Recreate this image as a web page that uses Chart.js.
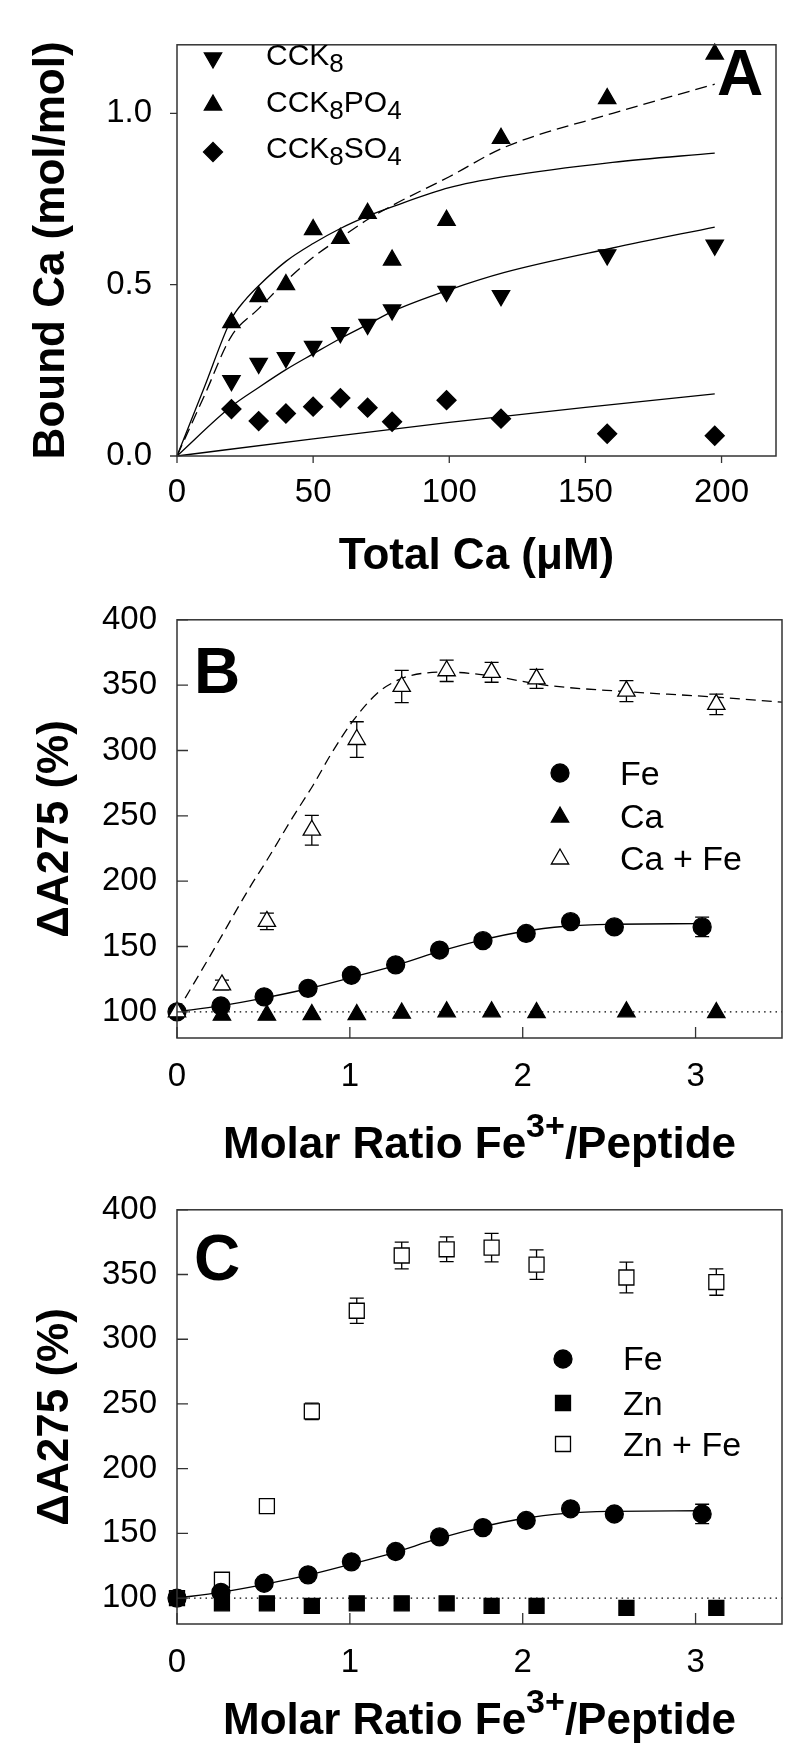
<!DOCTYPE html>
<html>
<head>
<meta charset="utf-8">
<script src="https://cdn.jsdelivr.net/npm/chart.js@4.4.0/dist/chart.umd.min.js"></script>
<style>
    body { margin: 0; background: #fff; }
    .panel { position: absolute; left: 0; }
    .panel canvas { display: block; }
</style>
</head>
<body>
<div class="panel" style="top:0"><canvas id="chartA" width="800" height="580"></canvas></div>
<div class="panel" style="top:580px"><canvas id="chartB" width="800" height="590"></canvas></div>
<div class="panel" style="top:1170px"><canvas id="chartC" width="800" height="590"></canvas></div>
<script>
/**
 * 数据
 */
//图A: Bound Ca vs Total Ca
var caTotal = [20, 30, 40, 50, 60, 70, 79, 99, 119, 158, 197.5];
var boundCck8 = [0.22, 0.27, 0.287, 0.32, 0.36, 0.384, 0.426, 0.48, 0.468, 0.587, 0.615];
var boundPO4 = [0.389, 0.465, 0.5, 0.661, 0.635, 0.708, 0.572, 0.688, 0.927, 1.043, 1.173];
var boundSO4 = [0.137, 0.102, 0.124, 0.144, 0.169, 0.141, 0.1, 0.163, 0.109, 0.065, 0.059];

//图A拟合曲线
var fitPO4X = [0, 10, 20, 25, 30, 40, 50, 60, 70, 80, 100, 120, 160, 197.5];
var fitPO4Y = [0, 0.2, 0.4, 0.455, 0.497, 0.568, 0.62, 0.664, 0.7, 0.73, 0.783, 0.815, 0.857, 0.884];
var fitPO4DashX = [0, 10, 20, 30, 40, 50, 60, 70, 80, 100, 120, 160, 197.5];
var fitPO4DashY = [0, 0.175, 0.35, 0.43, 0.51, 0.58, 0.636, 0.69, 0.735, 0.815, 0.9, 1.0, 1.085];
var fitCck8X = [0, 20, 30, 40, 50, 60, 70, 80, 100, 120, 160, 197.5];
var fitCck8Y = [0, 0.145, 0.2, 0.252, 0.298, 0.343, 0.384, 0.425, 0.485, 0.535, 0.607, 0.668];
var fitSO4X = [0, 50, 100, 150, 197.5];
var fitSO4Y = [0, 0.05, 0.098, 0.142, 0.181];

var ticksAx = [0, 50, 100, 150, 200];
var ticksAy = [0, 0.5, 1.0];

//图B、图C: ΔA275 vs Fe3+/Peptide
var ratioFe = [0, 0.254, 0.504, 0.758, 1.009, 1.265, 1.519, 1.77, 2.02, 2.277, 2.53, 3.038];
var absFe = [100, 104.5, 111.5, 118, 128, 136, 147.3, 154.5, 160, 169, 165, 165];
var errFe = [0, 0, 0, 0, 0, 0, 0, 0, 0, 0, 0, 7.5];
var fitFeX = [0, 0.25, 0.5, 0.75, 1.0, 1.25, 1.5, 1.75, 2.0, 2.25, 2.5, 3.03];
var fitFeY = [100, 104.5, 110.5, 117.5, 126, 135, 145.5, 154.5, 161.5, 165.5, 167, 167.5];

var ratioMix = [0, 0.26, 0.52, 0.78, 1.04, 1.30, 1.56, 1.82, 2.08, 2.60, 3.12];
var ratioMetal = [0.26, 0.52, 0.78, 1.04, 1.30, 1.56, 1.82, 2.08, 2.60, 3.12];

//图B
var absCa = [97.5, 97.5, 98, 98, 99, 100, 100, 99.5, 100, 99.5];
var absCaFe = [100, 120.6, 169.2, 239, 308.4, 349, 361, 359.8, 354.8, 345.4, 335.3];
var errCaFe = [0, 3.7, 6.3, 11.4, 13.6, 12.3, 8.2, 7.6, 7.3, 8, 7.9];
var fitCaFeX = [0, 0.21, 0.42, 0.52, 0.67, 0.79, 0.89, 1.02, 1.16, 1.25, 1.34, 1.56, 1.82, 2.13, 2.6, 3.1, 3.5];
var fitCaFeY = [100, 147, 195, 216, 249, 274, 297, 323, 344, 352, 357, 360, 357, 350, 345, 341, 337];

//图C
var absZn = [96, 96, 94, 96, 96, 96, 94, 94, 92.5, 92.5];
var absZnFe = [100, 114.2, 171.1, 244.3, 322, 364.7, 369.5, 370.8, 357.6, 347.7, 344.2];
var errZnFe = [0, 0, 0, 6.3, 9.7, 10.3, 9.6, 11, 11.4, 11.9, 10.2];

//100%基线
var baseX = [0, 3.5];
var baseY = [100, 100];

var ticksBx = [0, 1, 2, 3];
var ticksBy = [100, 150, 200, 250, 300, 350, 400];

var FONT = '"Liberation Sans", Arial, Helvetica, sans-serif';
Chart.defaults.font.family = FONT;
Chart.defaults.color = '#000';

function pts(xs, ys) {
    return xs.map(function (x, i) { return {x: x, y: ys[i]}; });
}

/**
 * 标记 (与Chart.js的pointStyle几何一致)
 */
function drawMarker(ctx, style, x, y, r, fill) {
    ctx.save();
    ctx.beginPath();
    if (style === 'circle') {
        ctx.arc(x, y, r, 0, Math.PI * 2);
    } else if (style === 'triangle' || style === 'triDown') {
        var rad = style === 'triDown' ? Math.PI : 0;
        for (var k = 0; k < 3; k++) {
            var a = rad + k * 2 * Math.PI / 3;
            var px = x + Math.sin(a) * r, py = y - Math.cos(a) * r;
            if (k === 0) ctx.moveTo(px, py); else ctx.lineTo(px, py);
        }
        ctx.closePath();
    } else if (style === 'rectRot') {
        ctx.moveTo(x - r, y); ctx.lineTo(x, y - r); ctx.lineTo(x + r, y); ctx.lineTo(x, y + r);
        ctx.closePath();
    } else if (style === 'rect') {
        var h = r * Math.SQRT1_2;
        ctx.rect(x - h, y - h, 2 * h, 2 * h);
    }
    ctx.fillStyle = fill;
    ctx.fill();
    ctx.lineWidth = 1.3;
    ctx.strokeStyle = '#000';
    ctx.stroke();
    ctx.restore();
}

//带上下标的文字: parts = [[text, 0|1(下标)|-1(上标)], ...]
function drawParts(ctx, parts, x, y, size, bold, align, subSize, shift) {
    var w = 0;
    var weight = bold ? 'bold ' : '';
    parts.forEach(function (p) {
        ctx.font = weight + (p[1] ? subSize : size) + 'px ' + FONT;
        w += ctx.measureText(p[0]).width;
    });
    var cx = align === 'center' ? x - w / 2 : x;
    ctx.textAlign = 'left';
    ctx.textBaseline = 'alphabetic';
    parts.forEach(function (p) {
        ctx.font = weight + (p[1] ? subSize : size) + 'px ' + FONT;
        ctx.fillText(p[0], cx, y + p[1] * shift);
        cx += ctx.measureText(p[0]).width;
    });
}

/**
 * 边框、刻度、误差线、图例、标题
 */
var decorPlugin = {
    id: 'decor',
    beforeDatasetsDraw: function (chart) {
        var o = chart.options.plugins.decor;
        var ctx = chart.ctx, xs = chart.scales.x, ys = chart.scales.y;
        ctx.save();
        ctx.strokeStyle = '#000';
        ctx.lineWidth = 1.3;
        (o.errorBars || []).forEach(function (eb) {
            eb.x.forEach(function (xv, i) {
                var e = eb.err[i];
                if (!e) return;
                var px = xs.getPixelForValue(xv);
                var y1 = ys.getPixelForValue(eb.y[i] + e);
                var y2 = ys.getPixelForValue(eb.y[i] - e);
                ctx.beginPath();
                ctx.moveTo(px, y1); ctx.lineTo(px, y2);
                ctx.moveTo(px - 7, y1); ctx.lineTo(px + 7, y1);
                ctx.moveTo(px - 7, y2); ctx.lineTo(px + 7, y2);
                ctx.stroke();
            });
        });
        ctx.restore();
    },
    afterDraw: function (chart) {
        var o = chart.options.plugins.decor;
        var ctx = chart.ctx, area = chart.chartArea;
        var xs = chart.scales.x, ys = chart.scales.y;

        ctx.save();
        //边框
        ctx.strokeStyle = '#333';
        ctx.lineWidth = 1.5;
        ctx.strokeRect(area.left, area.top, area.right - area.left, area.bottom - area.top);

        //刻度线 (A朝外, B/C朝内)
        ctx.lineWidth = 1.3;
        ctx.beginPath();
        o.xTicks.forEach(function (v) {
            var px = xs.getPixelForValue(v);
            ctx.moveTo(px, area.bottom);
            ctx.lineTo(px, area.bottom + o.tickDir * o.tickLen);
        });
        o.yTicks.forEach(function (v) {
            var py = ys.getPixelForValue(v);
            ctx.moveTo(area.left, py);
            ctx.lineTo(area.left - o.tickDir * o.tickLen, py);
        });
        ctx.stroke();

        //图例
        o.legend.forEach(function (it) {
            drawMarker(ctx, it.style, it.mx, it.my, it.r, it.fill);
            ctx.fillStyle = '#000';
            drawParts(ctx, it.parts, it.tx, it.ty, o.legendSize, false, 'left', 26, 7);
        });

        //面板字母
        ctx.fillStyle = '#000';
        ctx.font = 'bold 64px ' + FONT;
        ctx.textAlign = 'center';
        ctx.textBaseline = 'alphabetic';
        ctx.fillText(o.letter[0], o.letter[1], o.letter[2]);

        //坐标轴标题
        drawParts(ctx, o.xTitle, (area.left + area.right) / 2, o.xTitleY, 44, true, 'center', 34, -21);
        ctx.translate(o.yTitleX, (area.top + area.bottom) / 2);
        ctx.rotate(-Math.PI / 2);
        drawParts(ctx, o.yTitle, 0, 0, 44, true, 'center', 34, -21);
        ctx.restore();
    }
};

function makeOptions(c) {
    return {
        responsive: false,
        animation: false,
        events: [],
        layout: { padding: c.padding },
        plugins: {
            legend: { display: false },
            tooltip: { enabled: false },
            decor: c.decor
        },
        scales: {
            x: {
                type: 'linear',
                min: c.xMin,
                max: c.xMax,
                grid: { display: false, drawTicks: false },
                border: { display: false },
                afterBuildTicks: function (scale) {
                    scale.ticks = c.decor.xTicks.map(function (v) { return {value: v}; });
                },
                afterFit: function (scale) { scale.height = c.xHeight; },
                ticks: {
                    padding: c.xPad,
                    autoSkip: false,
                    maxRotation: 0,
                    color: '#000',
                    font: { size: 33 },
                    callback: function (v) { return c.xFmt(v); }
                }
            },
            y: {
                type: 'linear',
                min: c.yMin,
                max: c.yMax,
                grid: { display: false, drawTicks: false },
                border: { display: false },
                afterBuildTicks: function (scale) {
                    scale.ticks = c.decor.yTicks.map(function (v) { return {value: v}; });
                },
                afterFit: function (scale) { scale.width = 177; },
                ticks: {
                    padding: c.yPad,
                    autoSkip: false,
                    color: '#000',
                    font: { size: 33 },
                    callback: function (v) { return c.yFmt(v); }
                }
            }
        }
    };
}

function markers(xs, ys, style, r, fill, rot) {
    return {
        data: pts(xs, ys),
        showLine: false,
        pointStyle: style,
        pointRadius: r,
        pointRotation: rot || 0,
        pointBackgroundColor: fill,
        pointBorderColor: '#000',
        pointBorderWidth: 1.3,
        clip: false
    };
}

function curve(xs, ys, dash, width) {
    return {
        data: pts(xs, ys),
        showLine: true,
        pointRadius: 0,
        borderColor: '#000',
        borderWidth: width || 1.3,
        borderDash: dash || [],
        cubicInterpolationMode: 'monotone',
        fill: false,
        clip: false
    };
}

/**
 * 图A
 */
new Chart(document.getElementById('chartA'), {
    type: 'scatter',
    data: {
        datasets: [
            markers(caTotal, boundPO4, 'triangle', 10, '#000'),
            markers(caTotal, boundCck8, 'triangle', 10, '#000', 180),
            markers(caTotal, boundSO4, 'rectRot', 9.5, '#000'),
            curve(fitPO4X, fitPO4Y),
            curve(fitPO4DashX, fitPO4DashY, [12, 6]),
            curve(fitCck8X, fitCck8Y),
            curve(fitSO4X, fitSO4Y)
        ]
    },
    options: makeOptions({
        padding: { left: 0, top: 23, right: 24, bottom: 0 },
        xMin: 0, xMax: 220, yMin: 0, yMax: 1.2,
        xHeight: 124, xPad: 17, yPad: 25,
        xFmt: function (v) { return String(v); },
        yFmt: function (v) { return v.toFixed(1); },
        decor: {
            xTicks: ticksAx, yTicks: ticksAy, tickDir: 1, tickLen: 7,
            legendSize: 30,
            legend: [
                { style: 'triDown', fill: '#000', r: 10, mx: 213, my: 58, tx: 266, ty: 65, parts: [['CCK', 0], ['8', 1]] },
                { style: 'triangle', fill: '#000', r: 10, mx: 213, my: 105, tx: 266, ty: 111.5, parts: [['CCK', 0], ['8', 1], ['PO', 0], ['4', 1]] },
                { style: 'rectRot', fill: '#000', r: 9.5, mx: 213, my: 152, tx: 266, ty: 158, parts: [['CCK', 0], ['8', 1], ['SO', 0], ['4', 1]] }
            ],
            letter: ['A', 740, 95],
            xTitle: [['Total Ca (\u03bcM)', 0]], xTitleY: 569,
            yTitle: [['Bound Ca (mol/mol)', 0]], yTitleX: 64
        }
    }),
    plugins: [decorPlugin]
});

/**
 * 图B
 */
new Chart(document.getElementById('chartB'), {
    type: 'scatter',
    data: {
        datasets: [
            markers(ratioMix, absCaFe, 'triangle', 10, '#fff'),
            markers(ratioFe, absFe, 'circle', 9, '#000'),
            markers(ratioMetal, absCa, 'triangle', 10, '#000'),
            curve(fitFeX, fitFeY),
            curve(fitCaFeX, fitCaFeY, [10, 6]),
            curve(baseX, baseY, [1.5, 4.2], 1.2)
        ]
    },
    options: makeOptions({
        padding: { left: 0, top: 39, right: 18, bottom: 0 },
        xMin: 0, xMax: 3.5, yMin: 80, yMax: 400,
        xHeight: 132, xPad: 19, yPad: 20,
        xFmt: function (v) { return String(v); },
        yFmt: function (v) { return String(v); },
        decor: {
            xTicks: ticksBx, yTicks: ticksBy, tickDir: -1, tickLen: 11,
            errorBars: [
                { x: ratioMix, y: absCaFe, err: errCaFe },
                { x: ratioFe, y: absFe, err: errFe }
            ],
            legendSize: 34,
            legend: [
                { style: 'circle', fill: '#000', r: 9, mx: 560, my: 193, tx: 620, ty: 205, parts: [['Fe', 0]] },
                { style: 'triangle', fill: '#000', r: 10, mx: 560, my: 237, tx: 620, ty: 248, parts: [['Ca', 0]] },
                { style: 'triangle', fill: '#fff', r: 10, mx: 560, my: 279, tx: 620, ty: 290, parts: [['Ca + Fe', 0]] }
            ],
            letter: ['B', 217, 113],
            xTitle: [['Molar Ratio Fe', 0], ['3+', 1], ['/Peptide', 0]], xTitleY: 578,
            yTitle: [['\u0394A275 (%)', 0]], yTitleX: 68
        }
    }),
    plugins: [decorPlugin]
});

/**
 * 图C
 */
new Chart(document.getElementById('chartC'), {
    type: 'scatter',
    data: {
        datasets: [
            markers(ratioFe, absFe, 'circle', 9, '#000'),
            markers(ratioMix, absZnFe, 'rect', 10.6, '#fff'),
            markers(ratioMetal, absZn, 'rect', 10.6, '#000'),
            curve(fitFeX, fitFeY),
            curve(baseX, baseY, [1.5, 4.2], 1.2)
        ]
    },
    options: makeOptions({
        padding: { left: 0, top: 32, right: 18, bottom: 0 },
        xMin: 0, xMax: 3.5, yMin: 80, yMax: 400,
        xHeight: 136, xPad: 19, yPad: 20,
        xFmt: function (v) { return String(v); },
        yFmt: function (v) { return String(v); },
        decor: {
            xTicks: ticksBx, yTicks: ticksBy, tickDir: -1, tickLen: 11,
            errorBars: [
                { x: ratioMix, y: absZnFe, err: errZnFe },
                { x: ratioFe, y: absFe, err: errFe }
            ],
            legendSize: 34,
            legend: [
                { style: 'circle', fill: '#000', r: 9, mx: 563, my: 189, tx: 623, ty: 200, parts: [['Fe', 0]] },
                { style: 'rect', fill: '#000', r: 10.6, mx: 563, my: 233, tx: 623, ty: 245, parts: [['Zn', 0]] },
                { style: 'rect', fill: '#fff', r: 10.6, mx: 563, my: 274, tx: 623, ty: 286, parts: [['Zn + Fe', 0]] }
            ],
            letter: ['C', 217, 110],
            xTitle: [['Molar Ratio Fe', 0], ['3+', 1], ['/Peptide', 0]], xTitleY: 564,
            yTitle: [['\u0394A275 (%)', 0]], yTitleX: 68
        }
    }),
    plugins: [decorPlugin]
});
</script>
</body>
</html>
